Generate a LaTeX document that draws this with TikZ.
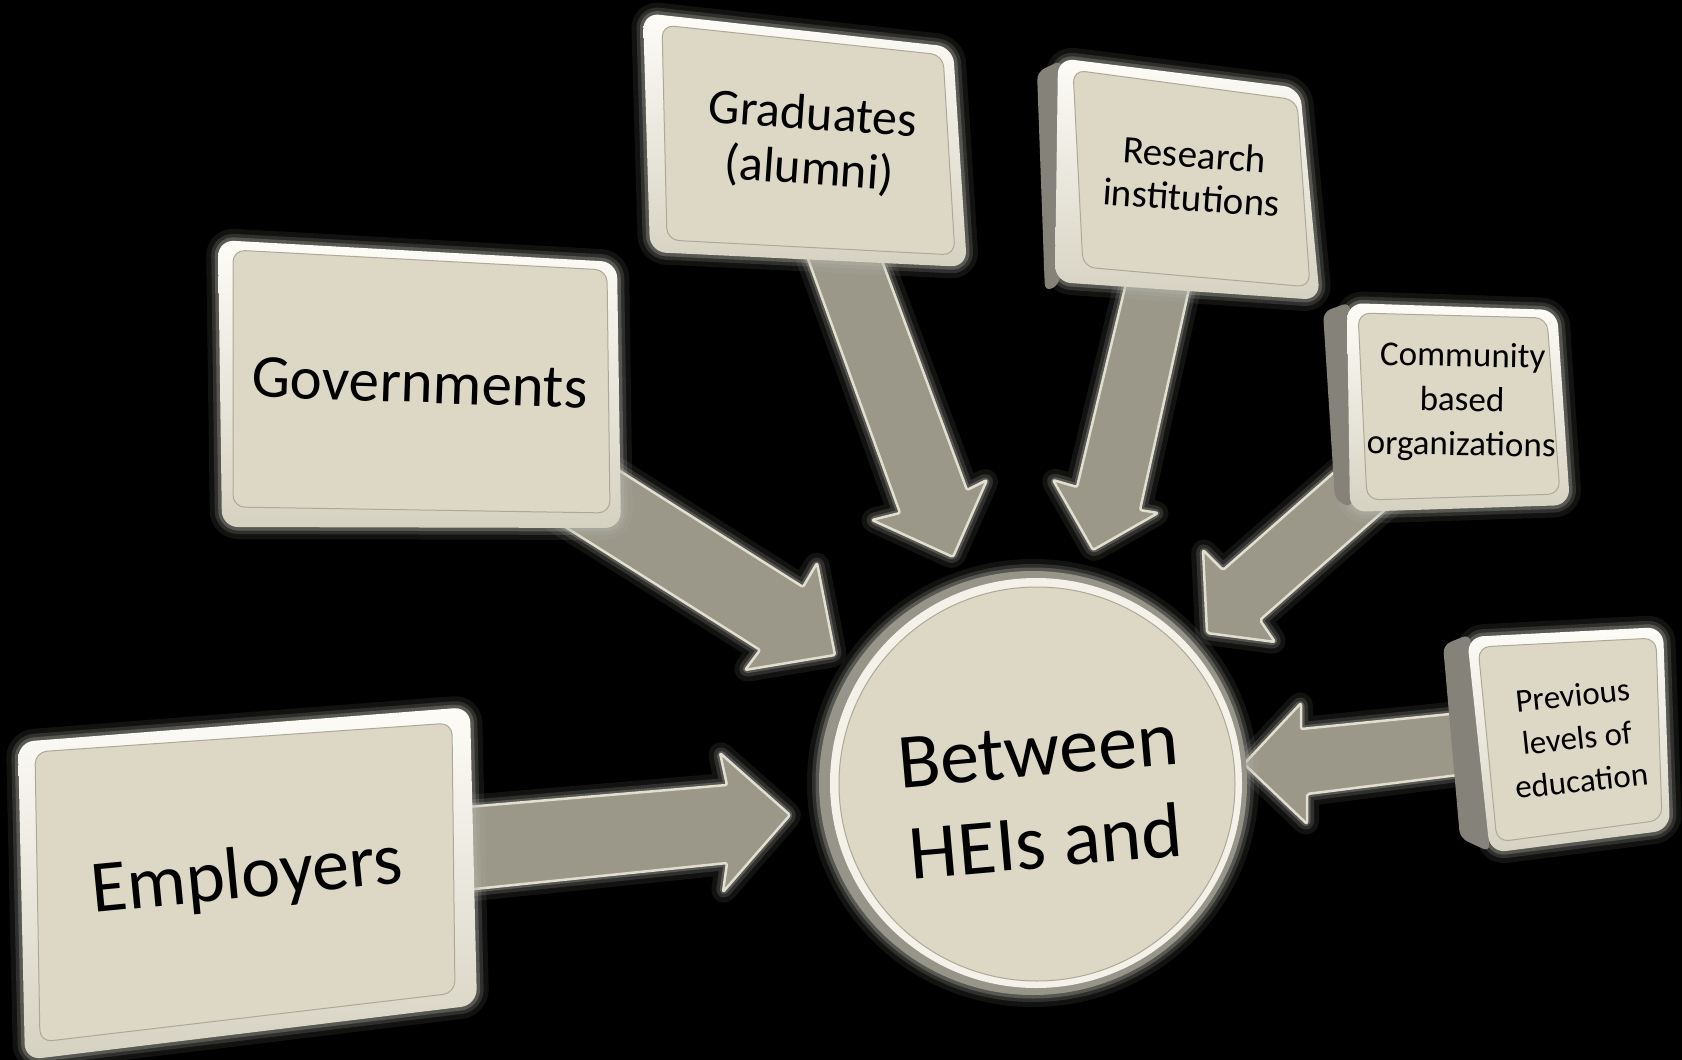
\documentclass[tikz,border=0pt]{standalone}
\usepackage{fontspec}
\setmainfont{Carlito}
\definecolor{facecol}{HTML}{DDD8C5}
\definecolor{rimhi}{HTML}{FDFCF7}
\definecolor{rimlo}{HTML}{D6D2C2}
\definecolor{arrowfill}{HTML}{9B988A}
\definecolor{arrowedge}{HTML}{E2DFD1}
\definecolor{sidegray}{HTML}{858379}
\definecolor{halocol}{HTML}{B8B7AE}
\definecolor{ringdark}{HTML}{97958A}
\definecolor{ringlight}{HTML}{F3F1E8}
\tikzset{
  haloA/.style={draw=halocol, line width=24pt, opacity=0.10, line join=round},
  haloB/.style={draw=halocol, line width=14pt, opacity=0.18, line join=round},
  haloC/.style={draw=halocol, line width=7pt, opacity=0.30, line join=round},
  rim/.style={top color=rimhi, bottom color=rimlo, rounded corners=16pt},
  boxface/.style={fill=facecol, draw=black!22!facecol, line width=1pt, rounded corners=12pt},
  sideface/.style={fill=sidegray, rounded corners=8pt},
  arrowbody/.style={fill=arrowfill, draw=arrowedge, line width=2.5pt, line join=round, rounded corners=2pt},
  lbl/.style={inner sep=0pt, align=center, text=black}
}
\newcommand\myglow[2]{%
  \path[haloA,rounded corners=#1] #2;
  \path[haloB,rounded corners=#1] #2;
  \path[haloC,rounded corners=#1] #2;}
\newcommand\myarrow[1]{\myglow{3pt}{#1}\path[arrowbody] #1;}
\newcommand\mypanel[3]{\myglow{16pt}{#1}#3\path[rim] #1;\path[boxface] #2;}
\begin{document}
\begin{tikzpicture}[x=1pt,y=-1pt]
\useasboundingbox (0,0) rectangle (1682,1060);
\fill[black] (0,0) rectangle (1682,1060);

% ---------- arrows (behind the panels) ----------
% Employers -> hub
\myarrow{(455,808) -- (727,785) -- (720,753) -- (790,815) -- (723,892) -- (727,863) -- (455,891) -- cycle}
% Governments -> hub
\myarrow{(590,452) -- (803,587) -- (817,563) -- (835,655) -- (745,670) -- (760,650) -- (540,511) -- cycle}
% Graduates -> hub
\myarrow{(804,248) -- (878,250) -- (967,490) -- (987,480) -- (953,557) -- (872,520) -- (900,513) -- cycle}
% Research -> hub
\myarrow{(1128,275) -- (1191,280) -- (1140,510) -- (1158,513) -- (1093,550) -- (1053,480) -- (1077,487) -- cycle}
% Community -> hub
\myarrow{(1365,445) -- (1223,570) -- (1203,550) -- (1207,633) -- (1275,642) -- (1260,620) -- (1395,501) -- cycle}
% Previous -> hub
\myarrow{(1490,710) -- (1301,729) -- (1301,703) -- (1244,764) -- (1307,824) -- (1307,794) -- (1490,771) -- cycle}

% ---------- panels ----------
\mypanel{(18,742) -- (470,707) -- (477,1005) -- (25,1060) -- cycle}
        {(35,752) -- (452,723) -- (455,993) -- (40,1042) -- cycle}{}
\mypanel{(218,240) -- (617,262) -- (621,528) -- (222,527) -- cycle}
        {(233,250) -- (607,270) -- (610,513) -- (233,507) -- cycle}{}
\mypanel{(643,13) -- (953,47) -- (967,267) -- (650,252) -- cycle}
        {(662,25) -- (943,55) -- (955,255) -- (667,240) -- cycle}{}
\mypanel{(1058,58) -- (1300,88) -- (1320,300) -- (1055,282) -- cycle}
        {(1073,70) -- (1297,100) -- (1310,287) -- (1083,267) -- cycle}
        {\path[sideface] (1037,72) -- (1062,60) -- (1060,284) -- (1045,292) -- cycle;}
\mypanel{(1347,303) -- (1557,310) -- (1570,505) -- (1350,512) -- cycle}
        {(1358,313) -- (1547,318) -- (1560,494) -- (1367,500) -- cycle}
        {\path[sideface] (1323,312) -- (1350,302) -- (1352,508) -- (1335,500) -- cycle;}
\mypanel{(1467,637) -- (1663,627) -- (1670,830) -- (1490,853) -- cycle}
        {(1478,647) -- (1656,638) -- (1662,820) -- (1497,842) -- cycle}
        {\path[sideface] (1443,645) -- (1470,634) -- (1490,852) -- (1460,838) -- cycle;}

% ---------- hub ----------
\myglow{0pt}{(1033,783) ellipse [x radius=214pt, y radius=212pt]}
\path[fill=ringdark] (1033,783) ellipse [x radius=214pt, y radius=212pt];
\path[fill=ringlight] (1036,783) ellipse [x radius=206pt, y radius=205pt];
\path[fill=facecol, draw=black!22!facecol, line width=1pt] (1037,784) ellipse [x radius=198pt, y radius=197pt];

% ---------- labels ----------
\node[lbl, font=\fontsize{74}{80}\selectfont, rotate=5.5] (emp) at (247,878) {Employers};
\node[lbl, font=\fontsize{61}{66}\selectfont, rotate=-2] (gov) at (420,383) {Governments};
\node[lbl, font=\fontsize{50}{55}\selectfont, rotate=-4] (grad) at (811,143) {Graduates\\(alumni)};
\node[lbl, font=\fontsize{39}{43}\selectfont, rotate=-4] (res) at (1193,176) {Research\\institutions};
\node[lbl, font=\fontsize{35}{44.5}\selectfont, rotate=-1] (com) at (1462,402) {Community\\based\\organizations};
\node[lbl, font=\fontsize{33}{43}\selectfont, rotate=6] (prev) at (1577,738) {Previous\\levels of\\education};
\node[lbl, font=\fontsize{78}{92}\selectfont, rotate=5] (hub) at (1042,797) {Between\\HEIs and};
\end{tikzpicture}
\end{document}
